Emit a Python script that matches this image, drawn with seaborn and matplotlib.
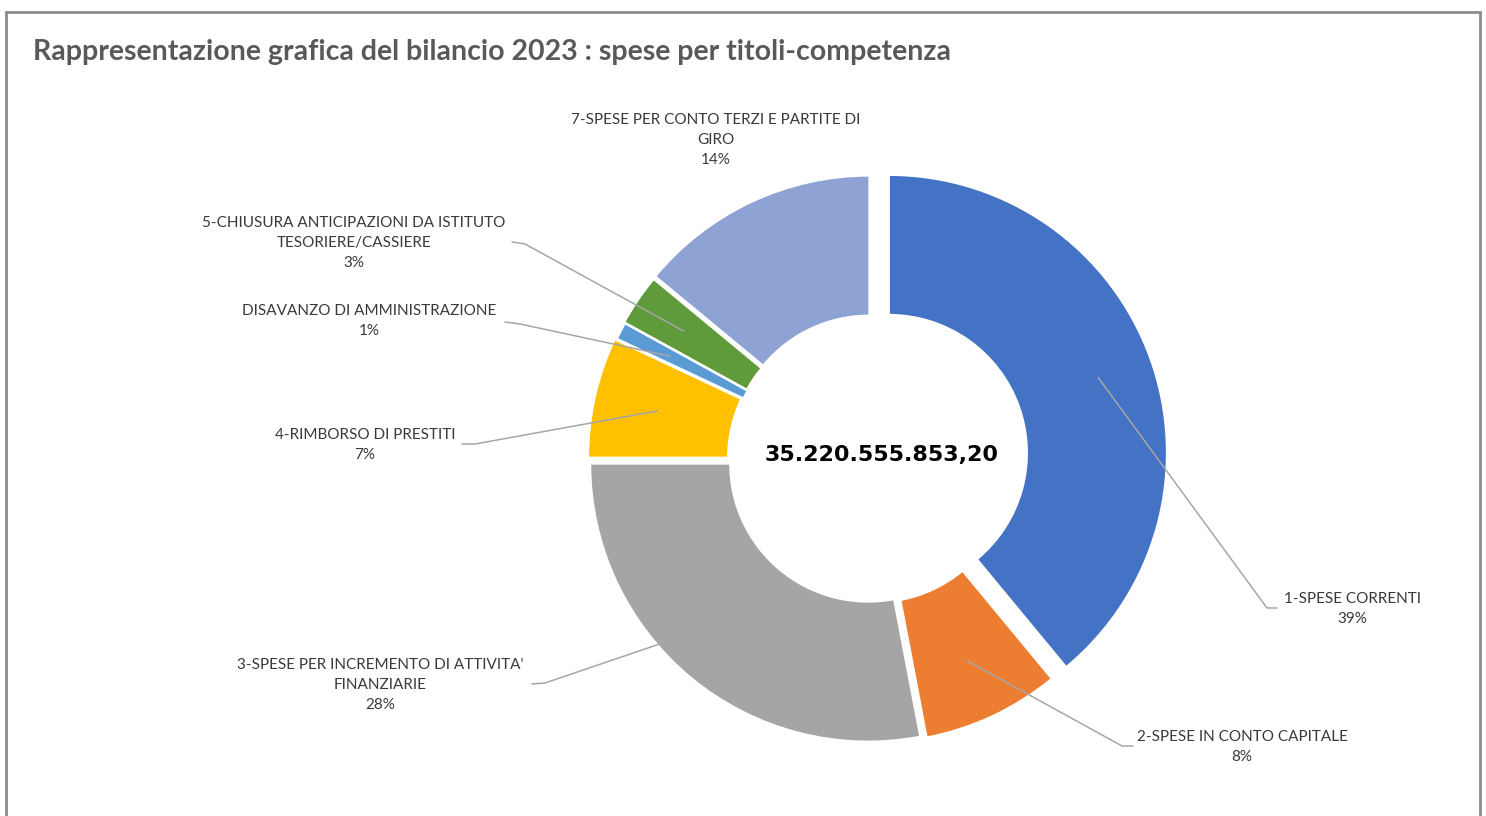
import numpy as np
import matplotlib
matplotlib.use("Agg")
import matplotlib.pyplot as plt
from matplotlib.patches import Rectangle
import seaborn as sns

sns.set_theme(style="white")
plt.rcParams["font.family"] = ["Lato", "DejaVu Sans"]

W, H = 1486, 816

# dati (percentuali, partendo dalle 12 in senso orario)
categorie = [
    "1-SPESE CORRENTI",
    "2-SPESE IN CONTO CAPITALE",
    "3-SPESE PER INCREMENTO DI ATTIVITA'\nFINANZIARIE",
    "4-RIMBORSO DI PRESTITI",
    "DISAVANZO DI AMMINISTRAZIONE",
    "5-CHIUSURA ANTICIPAZIONI DA ISTITUTO\nTESORIERE/CASSIERE",
    "7-SPESE PER CONTO TERZI E PARTITE DI\nGIRO",
]
valori = [39, 8, 28, 7, 1, 3, 14]
totale_txt = "35.220.555.853,20"
titolo = "Rappresentazione grafica del bilancio 2023 : spese per titoli-competenza"

colori = ["#4472C4", "#ED7D31", "#A5A5A5", "#FFC000", "#5B9BD5", "#5F9A3B", "#8FA2D4"]

# layout (pixel, origine in alto a sinistra)
CX, CY, R, SPESSORE = 872, 459, 278, 140
esplodi = [18, 6, 6, 6, 4, 5, 6]
pos_etichette = [(1352, 609), (1242, 747), (380, 685), (365, 445),
                 (369, 321), (354, 243), (716, 140)]
# (ancora vicino al testo, gomito, frazione di raggio, scarto angolare) - None = nessuna linea
guide = [((1277, 608), (1267, 608), 0.80, 0),
         ((1133, 746), (1122, 746), 0.78, 0),
         ((532, 684), (545, 683), 0.99, -9.5),
         ((462, 444), (475, 444), 0.77, 0),
         ((505, 322), (520, 324), 0.80, 0),
         ((512, 242), (525, 244), 0.80, 0),
         None]


def Y(v):
    return H - v


fig = plt.figure(figsize=(W / 100, H / 100), dpi=100)
ax = fig.add_axes([0, 0, 1, 1])

wedges, _ = ax.pie(valori, colors=colori, radius=R, center=(CX, Y(CY)),
                   startangle=90, counterclock=False, explode=esplodi,
                   wedgeprops=dict(width=SPESSORE, edgecolor="white", lw=1.5))
ax.set_xlim(0, W)
ax.set_ylim(0, H)
ax.set_aspect("equal")
ax.axis("off")

tot = sum(valori)
for w, nome, v, (tx, ty), g in zip(wedges, categorie, valori, pos_etichette, guide):
    ax.text(tx, Y(ty), f"{nome}\n{v / tot * 100:.0f}%", ha="center", va="center",
            fontsize=11, color="#3A3A3A", linespacing=1.55)
    if g is None:
        continue
    a = np.deg2rad((w.theta1 + w.theta2) / 2 + g[3])
    rr = w.r * g[2]
    px = w.center[0] + rr * np.cos(a)
    py = w.center[1] + rr * np.sin(a)
    ax.plot([g[0][0], g[1][0], px], [Y(g[0][1]), Y(g[1][1]), py],
            color="#A6A6A6", lw=1.1, solid_capstyle="round")

ax.text(CX + 10, Y(455), totale_txt, ha="center", va="center", fontsize=16,
        fontweight="bold", color="black", family=["DejaVu Sans"])

ax.text(33, Y(52), titolo, ha="left", va="center", fontsize=20.5,
        fontweight="bold", color="#595959")

# cornice del grafico
ax.add_patch(Rectangle((6, Y(830)), 1474, 818, fill=False, ec="#8C8C8C",
                       lw=2, clip_on=False))

fig.savefig("out.png", dpi=100)
